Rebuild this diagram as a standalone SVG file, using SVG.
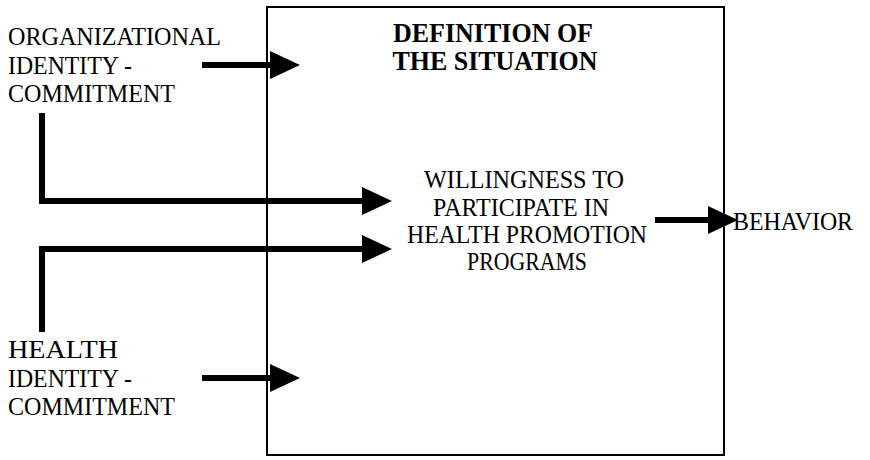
<svg xmlns="http://www.w3.org/2000/svg" width="870" height="460" viewBox="0 0 870 460">
<style>
text { font-family: "Liberation Serif", "Times New Roman", serif; fill: #000; }
.lbl { font-size: 26px; }
.mid { font-size: 24.5px; text-anchor: middle; }
.ttl { font-size: 28px; font-weight: bold; text-anchor: middle; }
.con { fill: none; stroke: #000; stroke-width: 6; }
.box { fill: #fff; stroke: #000; stroke-width: 2; }
</style>
<defs>
<marker id="ah" markerUnits="userSpaceOnUse" viewBox="0 0 30 28" markerWidth="30" markerHeight="28" refX="2" refY="14" orient="auto">
<path d="M0,0 L30,14 L0,28 Z" fill="#000"/>
</marker>
</defs>
<rect width="870" height="460" fill="#fff"/>
<g id="situation">
<rect class="box" x="267" y="7" width="457" height="448"/>
<text class="ttl" x="493" y="42" textLength="200" lengthAdjust="spacingAndGlyphs">DEFINITION OF</text>
<text class="ttl" x="495" y="70" textLength="205" lengthAdjust="spacingAndGlyphs">THE SITUATION</text>
</g>
<g id="org-identity">
<text class="lbl" x="8" y="45" textLength="213" lengthAdjust="spacingAndGlyphs">ORGANIZATIONAL</text>
<text class="lbl" x="8" y="74" textLength="124" lengthAdjust="spacingAndGlyphs">IDENTITY -</text>
<text class="lbl" x="8" y="102" textLength="167" lengthAdjust="spacingAndGlyphs">COMMITMENT</text>
</g>
<g id="health-identity">
<text class="lbl" x="8" y="358" textLength="110" lengthAdjust="spacingAndGlyphs">HEALTH</text>
<text class="lbl" x="8" y="387" textLength="124" lengthAdjust="spacingAndGlyphs">IDENTITY -</text>
<text class="lbl" x="8" y="415" textLength="167" lengthAdjust="spacingAndGlyphs">COMMITMENT</text>
</g>
<g id="willingness">
<text class="mid" x="524" y="188" textLength="200" lengthAdjust="spacingAndGlyphs">WILLINGNESS TO</text>
<text class="mid" x="521" y="216" textLength="176" lengthAdjust="spacingAndGlyphs">PARTICIPATE IN</text>
<text class="mid" x="527" y="243" textLength="240" lengthAdjust="spacingAndGlyphs">HEALTH PROMOTION</text>
<text class="mid" x="527" y="270" textLength="120" lengthAdjust="spacingAndGlyphs">PROGRAMS</text>
</g>
<g id="behavior">
<text class="mid" x="793" y="230" textLength="120" lengthAdjust="spacingAndGlyphs">BEHAVIOR</text>
</g>
<g id="connectors">
<path class="con" d="M202,65 H272" marker-end="url(#ah)"/>
<path class="con" d="M42,113 V201 H364" marker-end="url(#ah)"/>
<path class="con" d="M42,332 V249 H364" marker-end="url(#ah)"/>
<path class="con" d="M202,378 H272" marker-end="url(#ah)"/>
<path class="con" d="M655,220 H710" marker-end="url(#ah)"/>
</g>
</svg>
